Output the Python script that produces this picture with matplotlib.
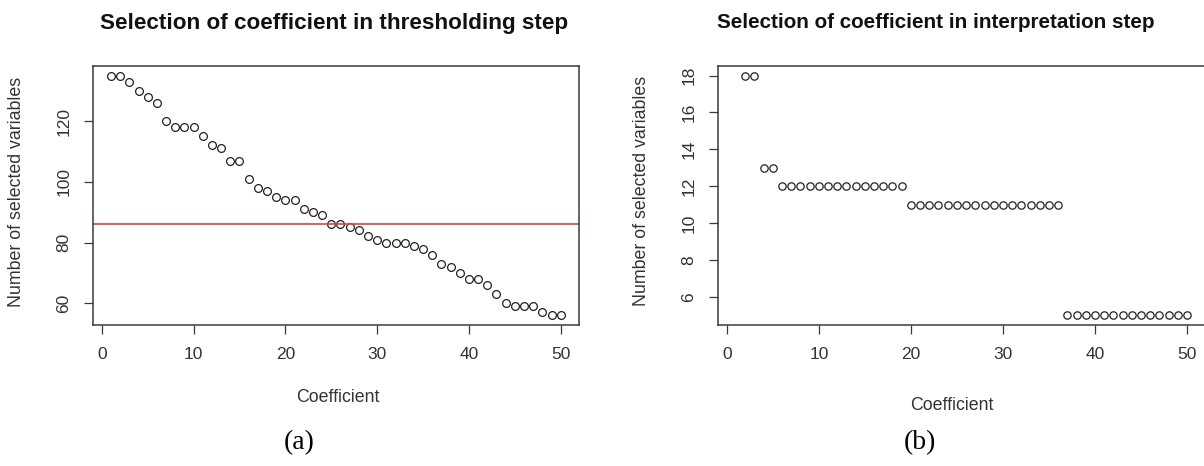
import numpy as np
import matplotlib
matplotlib.use("Agg")
import matplotlib.pyplot as plt

# ---- data ----
coef_a = list(range(1, 51))
nvars_a = [135, 135, 133, 130, 128, 126, 120, 118, 118, 118,
           115, 112, 111, 107, 107, 101, 98, 97, 95, 94,
           94, 91, 90, 89, 86, 86, 85, 84, 82, 81,
           80, 80, 80, 79, 78, 76, 73, 72, 70, 68,
           68, 66, 63, 60, 59, 59, 59, 57, 56, 56]
threshold_a = 86

coef_b = list(range(1, 51))
nvars_b = [np.nan, 18, 18, 13, 13] + [12] * 14 + [11] * 17 + [5] * 14

title_a = "Selection of coefficient in thresholding step"
title_b = "Selection of coefficient in interpretation step"
xlabel = "Coefficient"
ylabel = "Number of selected variables"
xticks = [0, 10, 20, 30, 40, 50]
yticks_a = [60, 80, 100, 120]
yticks_b = [6, 8, 10, 12, 14, 16, 18]

W, H = 1204, 466
fig = plt.figure(figsize=(W / 100, H / 100), dpi=100)
plt.rcParams['font.family'] = ['Liberation Sans', 'DejaVu Sans']

def px_axes(x0, x1, ytop, ybot):
    return fig.add_axes([x0 / W, 1 - ybot / H, (x1 - x0) / W, (ybot - ytop) / H])

def fx(x):
    return x / W

def fy(y):
    return 1 - y / H

spine_col = '#3a3a3a'
pt_col = '#222222'

def style(ax, yt):
    for s in ax.spines.values():
        s.set_color(spine_col)
        s.set_linewidth(1.1)
    ax.set_xticks(xticks)
    ax.set_yticks(yt)
    ax.tick_params(axis='both', direction='out', length=6.5, width=0.9,
                   color=spine_col, labelsize=12.5, labelcolor='#333333', pad=9)
    ax.tick_params(axis='y', labelrotation=90)
    for lab in ax.get_yticklabels():
        lab.set_va('center')

# ---- panel (a) ----
axa = px_axes(93, 578.7, 66, 325)
axa.plot(coef_a, nvars_a, linestyle='none', marker='o', markersize=5.6,
         markerfacecolor='none', markeredgecolor=pt_col, markeredgewidth=0.9)
axa.axhline(threshold_a, color='#d64545', linewidth=1.2)
axa.set_xlim(-0.96, 51.96)
axa.set_ylim(52.84, 138.16)
style(axa, yticks_a)

# ---- panel (b) ----
axb = px_axes(718, 1205, 66, 325)
axb.plot(coef_b, nvars_b, linestyle='none', marker='o', markersize=5.3,
         markerfacecolor='none', markeredgecolor=pt_col, markeredgewidth=0.9)
axb.set_xlim(-0.96, 51.96)
axb.set_ylim(4.48, 18.52)
style(axb, yticks_b)

# ---- texts ----
fig.text(fx(334.5), fy(23), title_a, ha='center', va='center',
         fontsize=16.2, fontweight='bold', color='#111111')
fig.text(fx(936), fy(23), title_b, ha='center', va='center',
         fontsize=14.9, fontweight='bold', color='#111111')
fig.text(fx(17), fy(192), ylabel, rotation=90, ha='center', va='center',
         fontsize=12.8, color='#333333')
fig.text(fx(641), fy(191), ylabel, rotation=90, ha='center', va='center',
         fontsize=12.8, color='#333333')
fig.text(fx(338), fy(397), xlabel, ha='center', va='center',
         fontsize=12.8, color='#333333')
fig.text(fx(952), fy(405), xlabel, ha='center', va='center',
         fontsize=12.8, color='#333333')
fig.text(fx(299), fy(443), "(a)", ha='center', va='center',
         fontsize=20, family=['Liberation Serif', 'DejaVu Serif'], color='black')
fig.text(fx(920), fy(443), "(b)", ha='center', va='center',
         fontsize=20, family=['Liberation Serif', 'DejaVu Serif'], color='black')

fig.savefig("out.png", dpi=100)
